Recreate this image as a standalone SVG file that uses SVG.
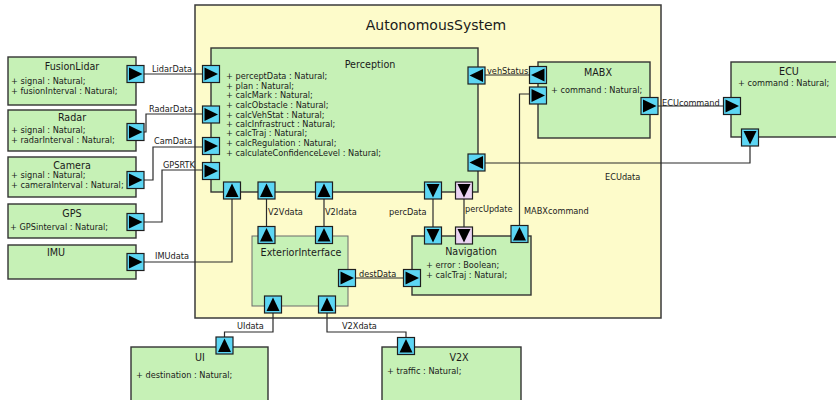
<svg xmlns="http://www.w3.org/2000/svg" xmlns:xlink="http://www.w3.org/1999/xlink" width="836" height="400" viewBox="0 0 836 400">
<style>
text{font-family:"DejaVu Sans","Liberation Sans",sans-serif;fill:#1a1a1a}
.frame{fill:#fdfbca;stroke:#3a3a3a;stroke-width:1.5}
.node{fill:#c6f1b6;stroke:#333;stroke-width:1.4}
.light{stroke:#6a6a6a;stroke-width:1}
.title{font-size:9.6px;text-anchor:middle}
.attr{font-size:8.2px}
.lbl{font-size:8.2px}
.conn path{fill:none;stroke:#2a2a2a;stroke-width:1.2}
</style>
<defs>
<g id="pR"><rect x="-8.5" y="-8.5" width="17" height="17" fill="#5cd6f4" stroke="#1e1e1e" stroke-width="1.2"/><path d="M-6.5,-6.5L7,0L-6.5,6.5Z" fill="#000"/></g>
<g id="pL"><rect x="-8.5" y="-8.5" width="17" height="17" fill="#5cd6f4" stroke="#1e1e1e" stroke-width="1.2"/><path d="M6.5,-6.5L-7,0L6.5,6.5Z" fill="#000"/></g>
<g id="pU"><rect x="-8.5" y="-8.5" width="17" height="17" fill="#5cd6f4" stroke="#1e1e1e" stroke-width="1.2"/><path d="M-6.5,6.5L0,-7L6.5,6.5Z" fill="#000"/></g>
<g id="pD"><rect x="-8.5" y="-8.5" width="17" height="17" fill="#5cd6f4" stroke="#1e1e1e" stroke-width="1.2"/><path d="M-6.5,-6.5L0,7L6.5,-6.5Z" fill="#000"/></g>
<g id="pDk"><rect x="-8.5" y="-8.5" width="17" height="17" fill="#ead3f2" stroke="#1e1e1e" stroke-width="1.2"/><path d="M-6.5,-6.5L0,7L6.5,-6.5Z" fill="#000"/></g>
</defs>
<rect width="836" height="400" fill="#fff"/>

<g id="AutonomousSystem">
<rect class="frame" x="195" y="5" width="466" height="313"/>
<text x="436" y="30" font-size="14" text-anchor="middle">AutonomousSystem</text>
</g>

<g class="conn" id="connectors">
<path d="M144,74H202"/>
<path d="M144,132H146V114H202"/>
<path d="M144,180H153V147H202"/>
<path d="M144,222H162V170H202"/>
<path d="M144,262H232V199"/>
<path d="M266.5,199V226"/>
<path d="M324,199V226"/>
<path d="M433,199V227"/>
<path d="M464,199V227"/>
<path d="M485,75H529"/>
<path d="M519.5,225V94H529"/>
<path d="M658,106H723"/>
<path d="M750,146V163H485"/>
<path d="M356,278H403"/>
<path d="M273,313V332H224.5V337"/>
<path d="M327,313V332H406V337"/>
<text class="lbl" x="152" y="72">LidarData</text>
<text class="lbl" x="149" y="112">RadarData</text>
<text class="lbl" x="154" y="144">CamData</text>
<text class="lbl" x="163" y="168">GPSRTK</text>
<text class="lbl" x="155" y="259">IMUdata</text>
<text class="lbl" x="268" y="215">V2Vdata</text>
<text class="lbl" x="325" y="215">V2Idata</text>
<text class="lbl" x="389" y="215">percData</text>
<text class="lbl" x="465" y="212">percUpdate</text>
<text class="lbl" x="524" y="214">MABXcommand</text>
<text class="lbl" x="487" y="74">vehStatus</text>
<text class="lbl" x="662" y="106">ECUcommand</text>
<text class="lbl" x="605" y="180">ECUdata</text>
<text class="lbl" x="359" y="277">destData</text>
<text class="lbl" x="237" y="329">UIdata</text>
<text class="lbl" x="342" y="329">V2Xdata</text>
</g>

<g id="FusionLidar">
<rect class="node" x="8" y="57" width="128" height="48"/>
<text class="title" x="72" y="70">FusionLidar</text>
<text class="attr" x="11" y="84">+ signal : Natural;</text>
<text class="attr" x="11" y="94">+ fusionInterval : Natural;</text>
<use xlink:href="#pR" x="135.5" y="74"/>
</g>
<g id="Radar">
<rect class="node" x="8" y="110" width="128" height="41"/>
<text class="title" x="72" y="121">Radar</text>
<text class="attr" x="11" y="133">+ signal : Natural;</text>
<text class="attr" x="11" y="143">+ radarInterval : Natural;</text>
<use xlink:href="#pR" x="135.5" y="132"/>
</g>
<g id="Camera">
<rect class="node" x="8" y="157" width="128" height="40"/>
<text class="title" x="72" y="169">Camera</text>
<text class="attr" x="11" y="178">+ signal : Natural;</text>
<text class="attr" x="11" y="188">+ cameraInterval : Natural;</text>
<use xlink:href="#pR" x="135.5" y="180"/>
</g>
<g id="GPS">
<rect class="node" x="8" y="204" width="128" height="34"/>
<text class="title" x="72" y="217">GPS</text>
<text class="attr" x="10" y="230">+ GPSinterval : Natural;</text>
<use xlink:href="#pR" x="135.5" y="222"/>
</g>
<g id="IMU">
<rect class="node" x="8" y="245" width="128" height="34"/>
<text class="title" x="56" y="256">IMU</text>
<use xlink:href="#pR" x="135.5" y="262"/>
</g>

<g id="Perception">
<rect class="node" x="211" y="48" width="267" height="144"/>
<text class="title" x="370" y="68">Perception</text>
<text class="attr" x="226" y="79">+ perceptData : Natural;</text>
<text class="attr" x="226" y="88.5">+ plan : Natural;</text>
<text class="attr" x="226" y="98">+ calcMark : Natural;</text>
<text class="attr" x="226" y="108">+ calcObstacle : Natural;</text>
<text class="attr" x="226" y="118">+ calcVehStat : Natural;</text>
<text class="attr" x="226" y="127">+ calcInfrastruct : Natural;</text>
<text class="attr" x="226" y="136">+ calcTraj : Natural;</text>
<text class="attr" x="226" y="146">+ calcRegulation : Natural;</text>
<text class="attr" x="226" y="156">+ calculateConfidenceLevel : Natural;</text>
<use xlink:href="#pR" x="211" y="74"/>
<use xlink:href="#pR" x="211" y="114.5"/>
<use xlink:href="#pR" x="211" y="146"/>
<use xlink:href="#pR" x="211" y="171"/>
<use xlink:href="#pU" x="232" y="190.5"/>
<use xlink:href="#pU" x="266.5" y="190.5"/>
<use xlink:href="#pU" x="324" y="190.5"/>
<use xlink:href="#pD" x="433" y="190.5"/>
<use xlink:href="#pDk" x="464" y="190.5"/>
<use xlink:href="#pL" x="476.5" y="75.5"/>
<use xlink:href="#pL" x="476.5" y="162.5"/>
</g>

<g id="MABX">
<rect class="node" x="538" y="62" width="112" height="76"/>
<text class="title" x="598" y="76">MABX</text>
<text class="attr" x="551" y="93">+ command : Natural;</text>
<use xlink:href="#pL" x="538" y="75"/>
<use xlink:href="#pR" x="538" y="95.5"/>
<use xlink:href="#pR" x="649.5" y="106"/>
</g>

<g id="ECU">
<rect class="node" x="731" y="62" width="110" height="75"/>
<text class="title" x="789" y="75">ECU</text>
<text class="attr" x="738" y="86">+ command : Natural;</text>
<use xlink:href="#pR" x="732" y="106"/>
<use xlink:href="#pD" x="750" y="137.5"/>
</g>

<g id="ExteriorInterface">
<rect class="node light" x="252" y="236" width="96" height="70"/>
<text class="title" x="301" y="256">ExteriorInterface</text>
<use xlink:href="#pU" x="266.5" y="235"/>
<use xlink:href="#pU" x="324" y="235"/>
<use xlink:href="#pR" x="347" y="278"/>
<use xlink:href="#pU" x="273" y="304.5"/>
<use xlink:href="#pU" x="327" y="304.5"/>
</g>

<g id="Navigation">
<rect class="node" x="412" y="236" width="119" height="59"/>
<text class="title" x="471" y="255">Navigation</text>
<text class="attr" x="426" y="268">+ error : Boolean;</text>
<text class="attr" x="426" y="278">+ calcTraj : Natural;</text>
<use xlink:href="#pD" x="433" y="235.5"/>
<use xlink:href="#pDk" x="464" y="235.5"/>
<use xlink:href="#pU" x="519.5" y="234"/>
<use xlink:href="#pR" x="412" y="278"/>
</g>

<g id="UI">
<rect class="node" x="131" y="347" width="137" height="60"/>
<text class="title" x="200" y="361">UI</text>
<text class="attr" x="136" y="378">+ destination : Natural;</text>
<use xlink:href="#pU" x="224.5" y="345.5"/>
</g>

<g id="V2X">
<rect class="node" x="382" y="347" width="139" height="60"/>
<text class="title" x="459" y="361">V2X</text>
<text class="attr" x="387" y="374">+ traffic : Natural;</text>
<use xlink:href="#pU" x="406" y="346"/>
</g>
</svg>
